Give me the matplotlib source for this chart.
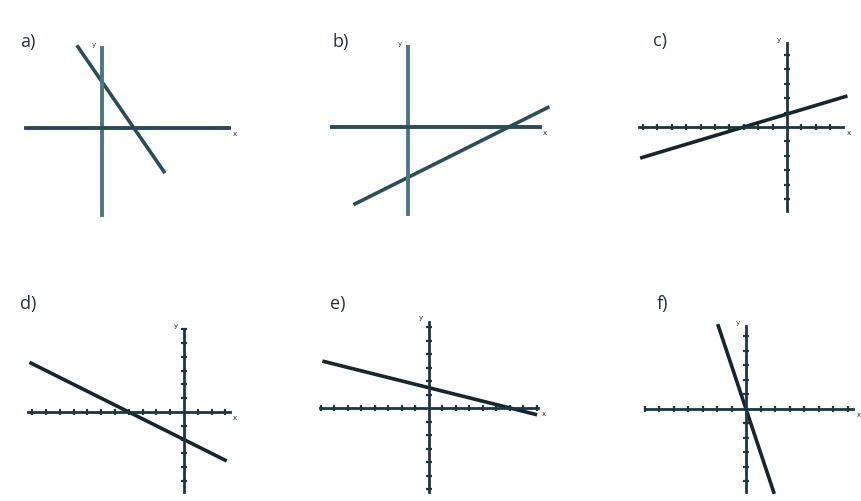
import numpy as np
import matplotlib
matplotlib.use('Agg')
import matplotlib.pyplot as plt

W, H = 862, 502

# panel data
names = ['a)', 'b)', 'c)', 'd)', 'e)', 'f)']
slopes = [-1.45, 0.5, 0.3, -0.5, -0.25, -3.0]
intercepts = [3.3, -3.6, 0.9, -2.0, 1.5, 0.0]
x_start = [-1.8, -3.9, -10.2, -11.2, -7.9, -1.95]
x_end = [4.5, 10.1, 4.2, 3.1, 8.0, 1.95]
xlims = [(-5.4, 9.1), (-5.4, 9.4), (-10.3, 3.9), (-11.3, 3.3), (-8.1, 8.1), (-7.0, 7.4)]
ylims = [(-6.2, 5.7), (-6.2, 5.7), (-5.8, 5.8), (-5.8, 6.0), (-6.2, 6.4), (-5.7, 5.7)]
has_ticks = [False, False, True, True, True, True]

# layout (pixels): origin of each panel and size of one unit
origins = [(102, 129), (408, 128), (787, 128), (184, 413), (429, 409), (746, 410)]
units = [14, 14, 14.4, 13.8, 13.5, 14.5]
label_pos = [(20, 42), (333, 42), (653, 41), (20, 304), (330, 304), (657, 304)]

fig = plt.figure(figsize=(W / 100, H / 100), dpi=100)
fig.patch.set_facecolor('white')

for i in range(6):
    ox, oy = origins[i]
    u = units[i]
    (x0, x1), (y0, y1) = xlims[i], ylims[i]
    left = (ox + x0 * u) / W
    bottom = 1 - (oy - y0 * u) / H
    ax = fig.add_axes([left, bottom, (x1 - x0) * u / W, (y1 - y0) * u / H])
    ax.set_xlim(x0, x1)
    ax.set_ylim(y0, y1)
    ax.patch.set_alpha(0)

    if has_ticks[i]:
        axis_col = '#1d3640'
        line_col = '#17262c'
        lw_axis = 2.0
    else:
        axis_col = '#4f7583'
        line_col = '#2c4c58'
        lw_axis = 2.8

    for side in ['top', 'right']:
        ax.spines[side].set_visible(False)
    ax.spines['left'].set_position(('data', 0))
    ax.spines['bottom'].set_position(('data', 0))
    ax.spines['left'].set_color(axis_col)
    ax.spines['bottom'].set_color('#2b4a55' if not has_ticks[i] else axis_col)
    ax.spines['left'].set_linewidth(lw_axis)
    ax.spines['bottom'].set_linewidth(lw_axis)

    if has_ticks[i]:
        xt = [v for v in range(int(np.ceil(x0)), int(np.floor(x1)) + 1) if v != 0]
        yt = [v for v in range(int(np.ceil(y0)), int(np.floor(y1)) + 1) if v != 0]
        ax.set_xticks(xt)
        ax.set_yticks(yt)
        ax.tick_params(direction='inout', length=5, width=1.6, color=axis_col,
                       labelbottom=False, labelleft=False)
    else:
        ax.set_xticks([])
        ax.set_yticks([])

    xs = np.array([x_start[i], x_end[i]])
    ax.plot(xs, slopes[i] * xs + intercepts[i], color=line_col, lw=2.6,
            solid_capstyle='butt', clip_on=False)

    ax.text(x1 + 0.25, -0.35, 'x', fontsize=5, color='#1d3640', ha='left', va='center')
    ax.text(-0.45, y1 + 0.1, 'y', fontsize=5, color='#1d3640', ha='right', va='bottom')

    lx, ly = label_pos[i]
    fig.text(lx / W, 1 - ly / H, names[i], fontsize=13, color='#23313a',
             family='Open Sans', ha='left', va='center')

fig.savefig('out.png', dpi=100)
